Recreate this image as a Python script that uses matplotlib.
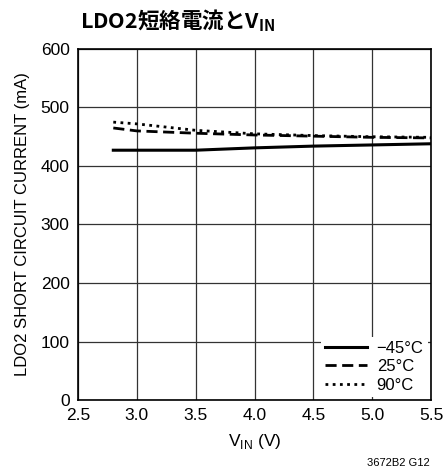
import matplotlib
matplotlib.use("Agg")
import matplotlib.pyplot as plt

vin = [2.8, 3.0, 3.5, 4.0, 4.5, 5.0, 5.5]
i_m45 = [427, 427, 427, 431, 434, 436, 438]
i_25 = [465, 460, 456, 453, 451, 449, 448]
i_90 = [475, 472, 461, 455, 452, 450, 449]

xticks = [2.5, 3.0, 3.5, 4.0, 4.5, 5.0, 5.5]
yticks = [0, 100, 200, 300, 400, 500, 600]

plt.rcParams['font.family'] = ['Liberation Sans Narrow', 'Liberation Sans', 'DejaVu Sans']

fig = plt.figure(figsize=(4.43, 4.72), dpi=100)
ax = fig.add_axes([78/443, 1-400/472, (431-78)/443, (400-49)/472])

ax.plot(vin, i_m45, color='black', lw=2.2, ls='-', label='\u221245\u00b0C')
ax.plot(vin, i_25, color='black', lw=2.0, ls=(0, (4, 2)), label='25\u00b0C')
ax.plot(vin, i_90, color='black', lw=2.0, ls=(0, (1, 1.6)), label='90\u00b0C')

ax.set_xlim(2.5, 5.5)
ax.set_ylim(0, 600)
ax.set_xticks(xticks)
ax.set_yticks(yticks)
ax.set_xticklabels([f"{v:.1f}" for v in xticks])
ax.tick_params(length=0, labelsize=12.5, pad=6)
ax.grid(True, color='#333333', lw=0.9)
ax.set_axisbelow(True)
for s in ax.spines.values():
    s.set_linewidth(1.2)

ax.set_xlabel('V$_{\\mathregular{IN}}$ (V)', fontsize=12.5, labelpad=6)
ax.set_ylabel('LDO2 SHORT CIRCUIT CURRENT (mA)', fontsize=12, labelpad=8)

leg = ax.legend(loc='lower right', frameon=True, fontsize=12, handlelength=2.5,
                borderpad=0.25, labelspacing=0.2, handletextpad=0.6, borderaxespad=0.2)
leg.get_frame().set_edgecolor('none')
leg.get_frame().set_facecolor('white')
leg.get_frame().set_alpha(1)

fig.text(80/443, 1-21/472, 'LDO2短絡電流とV$_{\\mathregular{IN}}$', fontsize=15.5, fontweight='bold',
         family=['Noto Sans CJK JP', 'DejaVu Sans'], va='center', ha='left')
fig.text(430/443, 1-463/472, '3672B2 G12', fontsize=8, ha='right', va='center')

fig.savefig('out.png', dpi=100)
